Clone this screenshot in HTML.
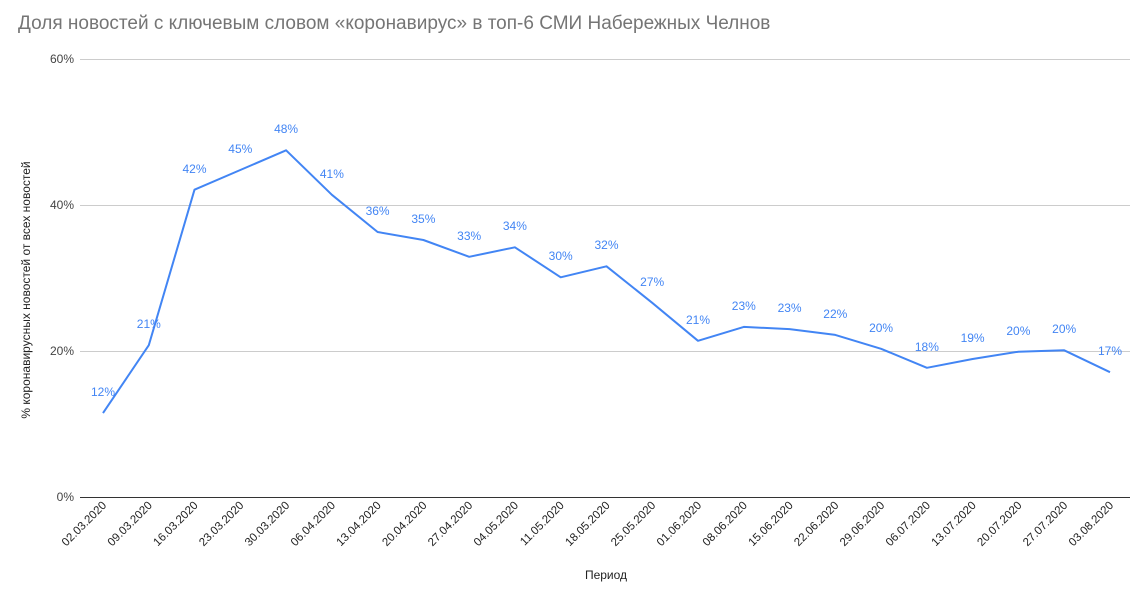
<!DOCTYPE html>
<html><head><meta charset="utf-8"><style>
body{margin:0;background:#fff;}
svg text{font-family:"Liberation Sans",Arial,sans-serif;}
</style></head><body>
<svg width="1148" height="597" xmlns="http://www.w3.org/2000/svg">
<rect width="1148" height="597" fill="#fff"/>
<text x="18" y="29" font-size="19" fill="#757575">Доля новостей с ключевым словом «коронавирус» в топ-6 СМИ Набережных Челнов</text>
<g stroke="#cccccc" stroke-width="1">
<line x1="80" y1="59.5" x2="1130" y2="59.5"/>
<line x1="80" y1="205.5" x2="1130" y2="205.5"/>
<line x1="80" y1="351.5" x2="1130" y2="351.5"/>
</g>
<line x1="80" y1="497.5" x2="1130" y2="497.5" stroke="#333" stroke-width="1"/>
<g font-size="12" fill="#444" text-anchor="end">
<text x="74" y="63">60%</text><text x="74" y="209">40%</text><text x="74" y="355">20%</text><text x="74" y="501">0%</text>
</g>
<text transform="translate(30,290) rotate(-90)" font-size="12" fill="#222" text-anchor="middle">% коронавирусных новостей от всех новостей</text>
<text x="606" y="579" font-size="12" fill="#222" text-anchor="middle">Период</text>
<polyline fill="none" stroke="#4285f4" stroke-width="2" stroke-linejoin="round" points="103,413.1 148.8,345.2 194.5,189.7 240.3,170 286.1,150.3 331.9,194.8 377.6,232 423.4,240 469.2,256.8 514.9,247.3 560.7,277.3 606.5,266.3 652.2,302.8 698,340.8 743.8,326.9 789.6,329.1 835.3,334.9 881.1,348.8 926.9,367.8 972.6,359 1018.4,351.7 1064.2,350.3 1110,372.2"/>
<g font-size="12" fill="#4285f4" text-anchor="middle">
<text x="103" y="396">12%</text>
<text x="148.8" y="328">21%</text>
<text x="194.5" y="173">42%</text>
<text x="240.3" y="153">45%</text>
<text x="286.1" y="133">48%</text>
<text x="331.9" y="178">41%</text>
<text x="377.6" y="215">36%</text>
<text x="423.4" y="223">35%</text>
<text x="469.2" y="240">33%</text>
<text x="514.9" y="230">34%</text>
<text x="560.7" y="260">30%</text>
<text x="606.5" y="249">32%</text>
<text x="652.2" y="286">27%</text>
<text x="698" y="324">21%</text>
<text x="743.8" y="310">23%</text>
<text x="789.6" y="312">23%</text>
<text x="835.3" y="318">22%</text>
<text x="881.1" y="332">20%</text>
<text x="926.9" y="351">18%</text>
<text x="972.6" y="342">19%</text>
<text x="1018.4" y="335">20%</text>
<text x="1064.2" y="333">20%</text>
<text x="1110" y="355">17%</text>
</g>
<g font-size="11.5" fill="#222" text-anchor="end">
<text transform="translate(107,506) rotate(-45)">02.03.2020</text>
<text transform="translate(152.8,506) rotate(-45)">09.03.2020</text>
<text transform="translate(198.5,506) rotate(-45)">16.03.2020</text>
<text transform="translate(244.3,506) rotate(-45)">23.03.2020</text>
<text transform="translate(290.1,506) rotate(-45)">30.03.2020</text>
<text transform="translate(335.9,506) rotate(-45)">06.04.2020</text>
<text transform="translate(381.6,506) rotate(-45)">13.04.2020</text>
<text transform="translate(427.4,506) rotate(-45)">20.04.2020</text>
<text transform="translate(473.2,506) rotate(-45)">27.04.2020</text>
<text transform="translate(518.9,506) rotate(-45)">04.05.2020</text>
<text transform="translate(564.7,506) rotate(-45)">11.05.2020</text>
<text transform="translate(610.5,506) rotate(-45)">18.05.2020</text>
<text transform="translate(656.2,506) rotate(-45)">25.05.2020</text>
<text transform="translate(702,506) rotate(-45)">01.06.2020</text>
<text transform="translate(747.8,506) rotate(-45)">08.06.2020</text>
<text transform="translate(793.6,506) rotate(-45)">15.06.2020</text>
<text transform="translate(839.3,506) rotate(-45)">22.06.2020</text>
<text transform="translate(885.1,506) rotate(-45)">29.06.2020</text>
<text transform="translate(930.9,506) rotate(-45)">06.07.2020</text>
<text transform="translate(976.6,506) rotate(-45)">13.07.2020</text>
<text transform="translate(1022.4,506) rotate(-45)">20.07.2020</text>
<text transform="translate(1068.2,506) rotate(-45)">27.07.2020</text>
<text transform="translate(1114,506) rotate(-45)">03.08.2020</text>
</g>
</svg>
</body></html>
